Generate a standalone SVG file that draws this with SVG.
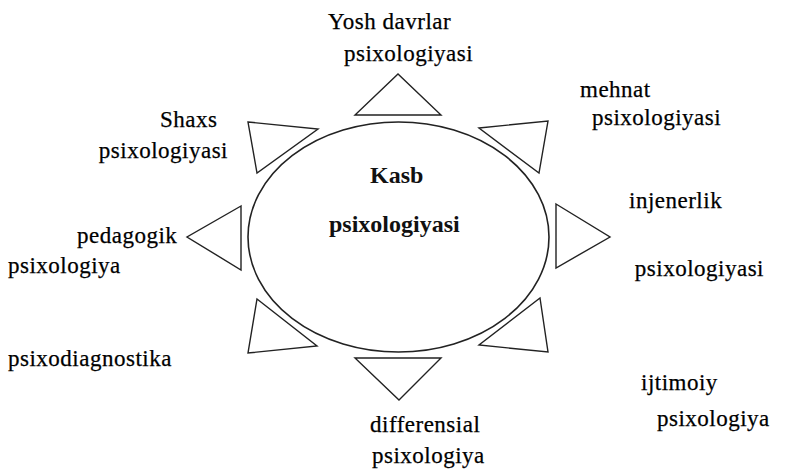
<svg xmlns="http://www.w3.org/2000/svg" width="802" height="471" viewBox="0 0 802 471">
<style>
.shape{fill:none;stroke:#222;stroke-width:1.4;stroke-linejoin:miter}
.lbl{font-family:"Liberation Serif","Times New Roman",serif;font-size:23px;letter-spacing:0.5px;fill:#000;stroke:#000;stroke-width:0.25px}
.core{font-family:"Liberation Serif","Times New Roman",serif;font-size:24px;font-weight:bold;fill:#111}
</style>
<rect width="802" height="471" fill="#fff"/>
<g id="center">
<ellipse class="shape" cx="398.5" cy="237" rx="150.5" ry="115" style="stroke-width:1.6"/>
<text class="core" x="370" y="183">Kasb</text>
<text class="core" x="329" y="232">psixologiyasi</text>
</g>
<g id="connectors">
<polygon class="shape" points="355,115 441,115 398,74"/>
<polygon class="shape" points="479,128 548,121 539,173"/>
<polygon class="shape" points="556,204 610,237 556,268"/>
<polygon class="shape" points="540,298 548,352 479,345"/>
<polygon class="shape" points="355,358 441,358 399,400"/>
<polygon class="shape" points="257,299 317,346 248,353"/>
<polygon class="shape" points="241,206 187,237 241,270"/>
<polygon class="shape" points="248,122 318,129 257,173"/>
</g>
<g id="yosh">
<text class="lbl" x="328" y="29">Yosh davrlar</text>
<text class="lbl" x="344" y="61">psixologiyasi</text>
</g>
<g id="mehnat">
<text class="lbl" x="580" y="97">mehnat</text>
<text class="lbl" x="592" y="125">psixologiyasi</text>
</g>
<g id="injenerlik">
<text class="lbl" x="629" y="208">injenerlik</text>
<text class="lbl" x="764" y="276" text-anchor="end">psixologiyasi</text>
</g>
<g id="ijtimoiy">
<text class="lbl" x="641" y="390">ijtimoiy</text>
<text class="lbl" x="657" y="426">psixologiya</text>
</g>
<g id="differensial">
<text class="lbl" x="370" y="432">differensial</text>
<text class="lbl" x="372" y="463">psixologiya</text>
</g>
<g id="psixodiagnostika">
<text class="lbl" x="8" y="366">psixodiagnostika</text>
</g>
<g id="pedagogik">
<text class="lbl" x="77" y="243">pedagogik</text>
<text class="lbl" x="8" y="273">psixologiya</text>
</g>
<g id="shaxs">
<text class="lbl" x="160" y="127">Shaxs</text>
<text class="lbl" x="228" y="158" text-anchor="end">psixologiyasi</text>
</g>
</svg>
